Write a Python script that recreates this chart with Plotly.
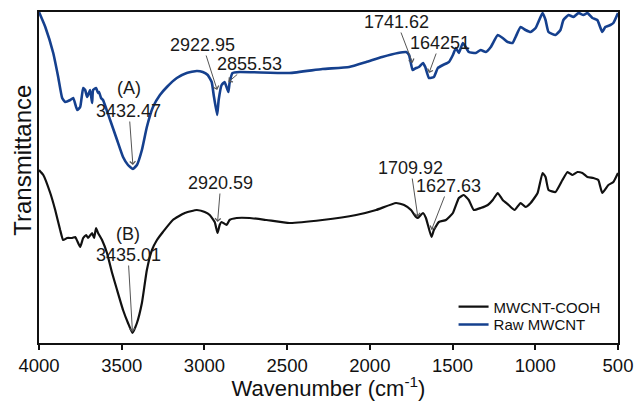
import plotly.graph_objects as go

# FTIR spectra (transmittance in arbitrary units, curves offset vertically)
raw_wn = [4000, 3962, 3914, 3884, 3860, 3842, 3811, 3793, 3769, 3751, 3733, 3721,
          3709, 3691, 3679, 3673, 3655, 3643, 3637, 3625, 3613, 3570, 3528, 3492,
          3462, 3432.47, 3408, 3378, 3348, 3311, 3269, 3227, 3167, 3107, 3046, 3010,
          2980, 2956, 2944, 2922.95, 2914, 2896, 2878, 2855.53, 2848, 2830, 2787,
          2486, 2287, 2125, 2022, 1926, 1830, 1781, 1763, 1741.62, 1721, 1703, 1679,
          1665, 1642.51, 1613, 1589, 1558, 1522, 1498, 1480, 1462, 1438, 1420, 1402,
          1360, 1330, 1299, 1269, 1227, 1197, 1167, 1137, 1119, 1089, 1059, 1028,
          998, 956, 938, 920, 878, 848, 830, 799, 769, 739, 709, 685, 655, 625, 595,
          577, 546, 528, 500]
raw_t = [331, 316, 290, 266, 245, 241, 243, 245, 233, 236, 255, 253,
         246, 253, 240, 253, 255, 250, 251, 245, 243, 223, 203, 186,
         178, 174, 178, 193, 216, 236, 248, 256, 265, 270, 272, 271,
         268, 261, 248, 228, 243, 258, 261, 251, 260, 270, 271,
         270, 274, 276, 281, 286, 290, 291, 288, 273, 275, 276, 280,
         276, 265, 266, 275, 278, 281, 288, 295, 290, 300, 296, 291,
         290, 293, 291, 296, 308, 305, 301, 300, 306, 316, 313, 311,
         315, 330, 323, 311, 308, 313, 323, 328, 326, 330, 328, 330, 325, 323, 311,
         316, 318, 320, 330]

cooh_wn = [4000, 3974, 3932, 3902, 3872, 3854, 3830, 3799, 3781, 3751, 3733, 3715,
           3703, 3679, 3667, 3655, 3643, 3619, 3589, 3558, 3528, 3492, 3462, 3435.01,
           3408, 3378, 3348, 3317, 3287, 3251, 3191, 3119, 3046, 2998, 2968, 2938,
           2920.59, 2908, 2896, 2866, 2848, 2805, 2727, 2625, 2486, 2287, 2083, 1962,
           1842, 1793, 1751, 1721, 1709.92, 1679, 1661, 1627.63, 1613, 1583, 1540,
           1498, 1462, 1432, 1402, 1372, 1330, 1287, 1257, 1227, 1197, 1161, 1125,
           1089, 1059, 1028, 986, 956, 938, 920, 878, 836, 805, 775, 745, 715, 685,
           649, 619, 595, 558, 528, 500]
cooh_t = [173, 168, 150, 133, 113, 103, 105, 105, 106, 96, 105, 108,
          105, 110, 105, 115, 110, 103, 90, 70, 53, 33, 20, 10,
          20, 40, 73, 93, 103, 111, 123, 130, 133, 131, 128, 121,
          110, 118, 121, 118, 123, 125, 125, 123, 120, 123, 128, 133,
          140, 138, 133, 126, 125, 130, 125, 106, 113, 121, 123,
          130, 145, 148, 143, 133, 135, 138, 143, 150, 143, 138, 133,
          140, 136, 140, 150, 170, 166, 153, 151, 163, 171, 168, 171, 170, 166,
          165, 163, 150, 158, 161, 170]

# Peak labels: text, label centre (wn, t) and arrow head (wn, t)
peak_text = ["3432.47", "2922.95", "2855.53", "1741.62", "164251",
             "3435.01", "2920.59", "1709.92", "1627.63"]
label_wn = [3456, 3010, 2727, 1836, 1576, 3462, 2901, 1753, 1524]
label_t = [232, 298, 279, 321, 300, 88, 160, 175, 157]
head_wn = [3432.47, 2922.95, 2855.53, 1741.62, 1642.51, 3435.01, 2920.59, 1709.92, 1627.63]
head_t = [178, 253, 261, 280, 270, 11, 121, 126, 113]

series_tags = ["(A)", "(B)"]
tag_wn = [3456, 3462]
tag_t = [255, 109]

x_ticks = [4000, 3500, 3000, 2500, 2000, 1500, 1000, 500]

FONT = "Arial, 'Liberation Sans', sans-serif"

fig = go.Figure()
fig.add_trace(go.Scatter(x=cooh_wn, y=cooh_t, mode="lines", name="MWCNT-COOH",
                         legend="legend",
                         line=dict(color="#111111", width=2.2, shape="spline", smoothing=0.4)))
fig.add_trace(go.Scatter(x=raw_wn, y=raw_t, mode="lines", name="Raw MWCNT",
                         legend="legend2",
                         line=dict(color="#15408e", width=2.6, shape="spline", smoothing=0.4)))

annotations = []
for i, txt in enumerate(peak_text):
    # label box sits at the arrow tail; the arrow runs from its edge to the peak
    annotations.append(dict(x=head_wn[i], y=head_t[i], ax=label_wn[i], ay=label_t[i],
                            xref="x", yref="y", axref="x", ayref="y", text=txt,
                            showarrow=True, arrowhead=4, arrowsize=1.1, arrowwidth=1,
                            arrowcolor="#555555", borderpad=0,
                            font=dict(family=FONT, size=18, color="#1a1a1a")))
for i, tag in enumerate(series_tags):
    annotations.append(dict(x=tag_wn[i], y=tag_t[i], xref="x", yref="y",
                            text=tag, showarrow=False,
                            font=dict(family=FONT, size=18, color="#1a1a1a")))

# vertical axis title
annotations.append(dict(x=-0.028, y=0.553, xref="paper", yref="paper",
                        text="Transmittance", textangle=-90, showarrow=False,
                        xanchor="center", yanchor="middle",
                        font=dict(family=FONT, size=24, color="#111111")))

legend_style = dict(xanchor="left", yanchor="middle", bgcolor="rgba(0,0,0,0)",
                    font=dict(family=FONT, size=15, color="#111111"), itemwidth=30)

fig.update_layout(
    width=634, height=401,
    margin=dict(l=39, r=16, t=12, b=58),
    paper_bgcolor="white", plot_bgcolor="white",
    font=dict(family=FONT, color="#111111"),
    showlegend=True,
    legend=dict(x=0.716, y=0.109, **legend_style),
    legend2=dict(x=0.716, y=0.055, **legend_style),
    annotations=annotations,
)
fig.update_xaxes(range=[4000, 500], tickvals=x_ticks, ticktext=[str(v) for v in x_ticks],
                 showline=True, linecolor="#111111", linewidth=2, mirror=True,
                 ticks="outside", ticklen=5, tickwidth=1.5, tickcolor="#111111",
                 showgrid=False, zeroline=False, ticklabeloverflow="allow",
                 automargin=False,
                 tickfont=dict(family=FONT, size=18.5, color="#111111"),
                 title=dict(text="Wavenumber (cm<sup>-1</sup>)", standoff=6,
                            font=dict(family=FONT, size=22, color="#111111")))
fig.update_yaxes(range=[0, 331], showticklabels=False, ticks="",
                 showline=True, linecolor="#111111", linewidth=2, mirror=True,
                 showgrid=False, zeroline=False, automargin=False)

fig.write_html("out.html")
